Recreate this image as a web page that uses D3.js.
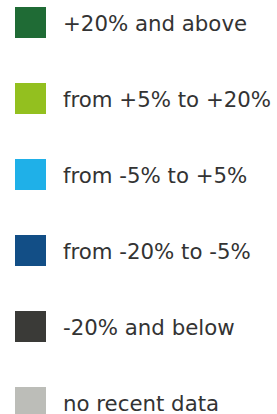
<!DOCTYPE html>
<html>
<head>
<meta charset="utf-8">
<script src="https://cdn.jsdelivr.net/npm/d3@7"></script>
<style>
  body { margin: 0; background: #fff; }
  svg { display: block; }
</style>
</head>
<body>
<div id="legend-container"></div>
<script>
// legend classes, top to bottom
var labels = ["+20% and above", "from +5% to +20%", "from -5% to +5%", "from -20% to -5%", "-20% and below", "no recent data"];
var colors = ["#1f6b35", "#93c01f", "#1fb0e8", "#124e86", "#3a3a37", "#bcbdb8"];

var width = 277, height = 414;
var squareSize = 31;

var svg = d3.select("#legend-container").append("svg")
    .attr("width", width).attr("height", height);

// row centres
var yScale = d3.scalePoint().domain(labels).range([22.5, 402.5]);
var colorScale = d3.scaleOrdinal().domain(labels).range(colors);

var rows = svg.selectAll("g.row").data(labels).enter()
    .append("g").attr("class", "row")
    .attr("transform", function(d) { return "translate(0," + yScale(d) + ")"; });

rows.append("rect")
    .attr("x", 15).attr("y", -squareSize / 2)
    .attr("width", squareSize).attr("height", squareSize)
    .attr("fill", function(d) { return colorScale(d); });

rows.append("text")
    .attr("x", 63).attr("y", 8.5)
    .attr("font-family", "'DejaVu Sans', sans-serif")
    .attr("font-size", 21.3)
    .attr("fill", "#333")
    .text(function(d) { return d; });
</script>
</body>
</html>
